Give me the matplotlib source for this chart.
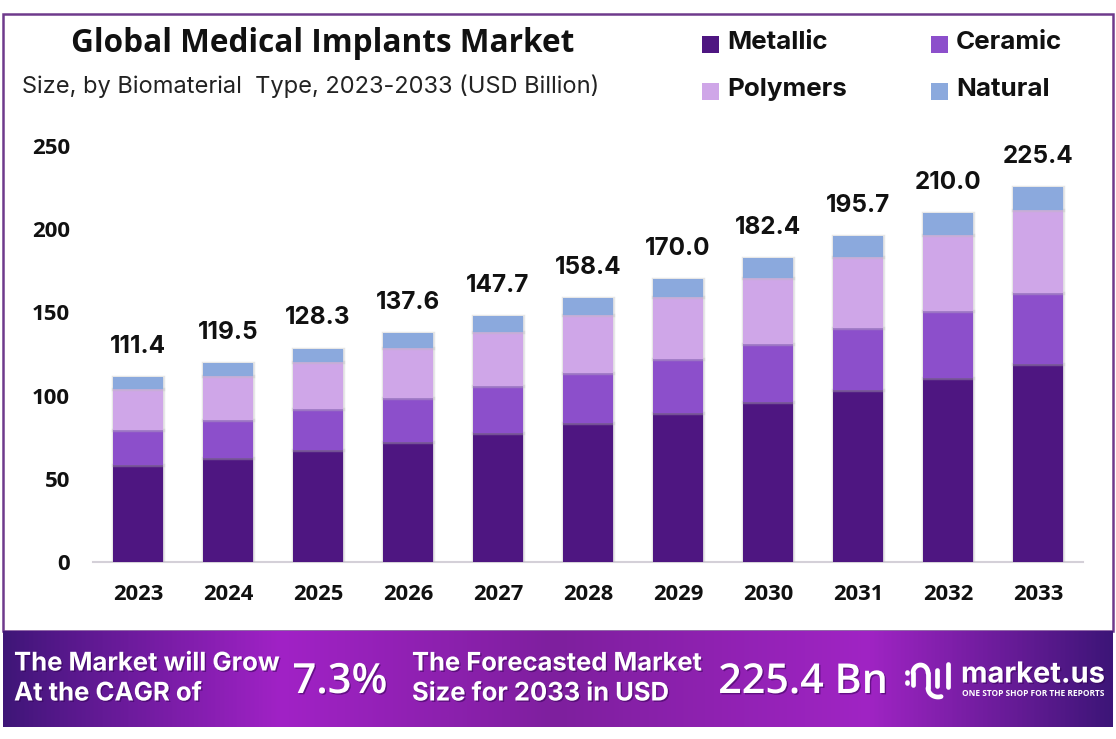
import numpy as np
import matplotlib
matplotlib.use("Agg")
import matplotlib.pyplot as plt
from matplotlib.colors import LinearSegmentedColormap
from matplotlib.patches import Rectangle
import matplotlib.patheffects as pe

years = ['2023','2024','2025','2026','2027','2028','2029','2030','2031','2032','2033']
metallic = [58.5,62.5,67.5,72.2,77.7,83.5,89.5,96.2,103.4,110.6,119.0]
ceramic  = [20.8,22.8,24.5,26.4,28.1,30.1,32.5,34.8,37.2,40.2,42.7]
polymers = [24.7,26.5,28.2,30.0,32.4,34.8,37.3,39.7,42.7,45.7,49.8]
natural  = [7.4,7.7,8.1,9.0,9.5,9.999,10.7,11.7,12.4,13.5,13.9]
totals   = ['111.4','119.5','128.3','137.6','147.7','158.4','170.0','182.4','195.7','210.0','225.4']
series_names = ['Metallic','Ceramic','Polymers','Natural']
colors = ['#4E1681','#8C4FCB','#CFA6E8','#8BA9DD']
yticks = [0,50,100,150,200,250]

W,H = 1116,739
fig = plt.figure(figsize=(W/100,H/100),dpi=100,facecolor='white')

# chart
x0,x1,y0,y250 = 93,1083,562,146
ax = fig.add_axes([x0/W,1-y0/H,(x1-x0)/W,(y0-y250)/H])
ax.set_xlim(-0.5,10.5); ax.set_ylim(0,250)
pos = np.arange(len(years))
bottom = np.zeros(len(years))
shadow = [pe.Stroke(linewidth=2.5,foreground='#BBBBBB',alpha=0.35),pe.Normal()]
for vals,c in zip([metallic,ceramic,polymers,natural],colors):
    bars = ax.bar(pos,vals,width=50/90,bottom=bottom,color=c,linewidth=0,zorder=3)
    for b in bars: b.set_path_effects(shadow)
    bottom += np.array(vals)
for p,t,lab in zip(pos,bottom,totals):
    ax.annotate(lab,(p,t),xytext=(0,22),textcoords='offset points',ha='center',va='center',
                fontsize=17.5,fontweight='bold',family='Inter',color='#111111')
for s in ['top','right','left']: ax.spines[s].set_visible(False)
ax.spines['bottom'].set_color('#D4D0D8'); ax.spines['bottom'].set_linewidth(1.5)
ax.set_xticks(pos); ax.set_xticklabels(years,fontsize=15.8,fontweight='bold',family='Open Sans',color='#111111')
ax.set_yticks(yticks); ax.set_yticklabels([str(v) for v in yticks],fontsize=16,fontweight='bold',family='Open Sans',color='#111111')
ax.tick_params(length=0); ax.tick_params(axis='x',pad=16); ax.tick_params(axis='y',pad=16.5)

# overlay in pixel coordinates
ov = fig.add_axes([0,0,1,1],zorder=5); ov.set_xlim(0,W); ov.set_ylim(H,0); ov.axis('off')
ov.add_patch(Rectangle((3,14),1110,617,fill=False,edgecolor='#6F3A8C',linewidth=1.8))
ov.text(323,43,'Global Medical Implants Market',fontsize=22.7,fontweight='bold',family='Open Sans',ha='center',va='center',color='#111111')
ov.text(22,86,'Size, by Biomaterial  Type, 2023-2033 (USD Billion)',fontsize=17,family='Inter',ha='left',va='center',color='#222222')

lx = [702,931]; ly = [44,91]
layout = [(0,0),(1,0),(0,1),(1,1)]
for name,c,(i,j) in zip(series_names,colors,layout):
    ov.add_patch(Rectangle((lx[i],ly[j]-8),17,17,facecolor=c,edgecolor='none'))
    ov.text(lx[i]+25,ly[j]-1.5,name,fontsize=18.7,fontweight='bold',family='Inter',ha='left',va='center',color='#111111')

# banner
cm = LinearSegmentedColormap.from_list('b',[(0,'#3F1678'),(0.05,'#55188A'),(0.25,'#A122C6'),(0.5,'#7E1F9E'),(0.78,'#A024C4'),(0.93,'#5E1A90'),(1,'#3D1578')])
ov.imshow(np.linspace(0,1,512)[None,:],extent=(3,1113,727,631),aspect='auto',cmap=cm,zorder=1)
ov.set_xlim(0,W); ov.set_ylim(H,0)
ts = [pe.withSimplePatchShadow(offset=(1,-1),shadow_rgbFace='#300050',alpha=0.5)]
def bt(x,y,s,fs,ha='left',w='bold'):
    ov.text(x,y,s,fontsize=fs,fontweight=w,family='Inter',color='white',ha=ha,va='center',zorder=3,path_effects=ts)
bt(14,664,'The Market will Grow',18.5)
bt(14,694,'At the CAGR of',18.5)
bt(412,664,'The Forecasted Market',18.4)
bt(412,694,'Size for 2033 in USD',18.4)
ov.text(340,682,'7.3%',fontsize=30,fontweight='semibold',family='Open Sans',color='white',ha='center',va='center',zorder=3,path_effects=ts)
ov.text(803,682,'225.4 Bn',fontsize=29.7,fontweight='semibold',family='Open Sans',color='white',ha='center',va='center',zorder=3,path_effects=ts)
bt(961,675,'market.us',20.9)
ov.text(1033,693,'ONE STOP SHOP FOR THE REPORTS',fontsize=6,fontweight='bold',family='Open Sans',color='white',ha='center',va='center',zorder=3)
# logo glyph
lw = 3.4
kw = dict(color='white',lw=lw,zorder=3,solid_capstyle='round')
th = np.linspace(np.pi,0,30)
ov.plot(920.5+7.5*np.cos(th),673-8*np.sin(th),**kw)
ov.plot([913,913],[673,685],**kw)
ov.plot([928,928],[673,688],**kw)
th2 = np.linspace(np.pi,np.pi*1.6,20)
ov.plot(938-10*np.cos(np.pi-th2)*1.0,688+9*np.sin(th2-np.pi),**kw)
ov.plot([937,937],[670,686],**kw)
ov.plot([948,948],[664,687],**kw)
ov.plot([907,907],[672,672.5],**kw)
ov.plot([907,907],[682,682.5],**kw)
fig.savefig('out.png',dpi=100,facecolor='white')
